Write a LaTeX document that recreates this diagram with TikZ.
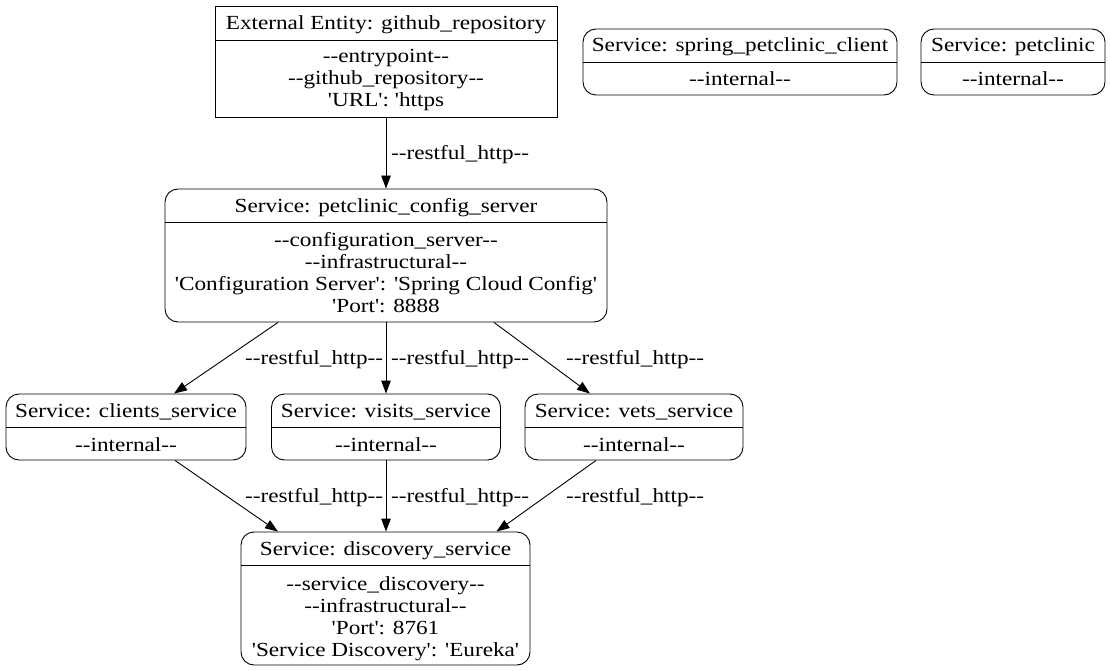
\documentclass[tikz,border=0pt]{standalone}
\usepackage{fontspec}
\newfontfamily\gv{Liberation Serif}[FakeStretch=1.16,Ligatures={TeXOff,CommonOff}]
\usetikzlibrary{arrows.meta}
\begin{document}
\begin{tikzpicture}[x=1pt,y=-1pt,
  every node/.style={font=\gv\fontsize{20}{22}\selectfont, inner sep=0pt},
  ebox/.style={draw, line width=0.9pt, rectangle},
  sbox/.style={draw, line width=0.9pt, rectangle, rounded corners=13pt},
  txt/.style={anchor=base},
  lbl/.style={anchor=base west},
  edge/.style={line width=0.9pt, -{Triangle[length=13pt,width=9.5pt]}},
  divider/.style={line width=0.9pt}]
\useasboundingbox (0,0) rectangle (1110,671);

% github_repository
\node[ebox, minimum width=342pt, minimum height=111pt] (gh) at (386,61.5) {};
\draw[divider] (gh.west |- 0,40) -- (gh.east |- 0,40);
\node[txt] (gh-t) at (386,30) {External Entity: github\_repository};
\node[txt] (gh-1) at (386,63) {--entrypoint--};
\node[txt] (gh-2) at (386,85) {--github\_repository--};
\node[txt] (gh-3) at (386,107) {'URL': 'https};

% spring_petclinic_client
\node[sbox, minimum width=314pt, minimum height=66pt] (spc) at (740,62) {};
\draw[divider] (spc.west |- 0,62) -- (spc.east |- 0,62);
\node[txt] (spc-t) at (740,52) {Service: spring\_petclinic\_client};
\node[txt] (spc-1) at (740,86) {--internal--};

% petclinic
\node[sbox, minimum width=184pt, minimum height=66pt] (pc) at (1013,62) {};
\draw[divider] (pc.west |- 0,62) -- (pc.east |- 0,62);
\node[txt] (pc-t) at (1013,52) {Service: petclinic};
\node[txt] (pc-1) at (1013,86) {--internal--};

% petclinic_config_server
\node[sbox, minimum width=442pt, minimum height=133pt] (cfg) at (386,255.5) {};
\draw[divider] (cfg.west |- 0,222) -- (cfg.east |- 0,222);
\node[txt] (cfg-t) at (386,212) {Service: petclinic\_config\_server};
\node[txt] (cfg-1) at (386,246) {--configuration\_server--};
\node[txt] (cfg-2) at (386,268) {--infrastructural--};
\node[txt] (cfg-3) at (386,290) {'Configuration Server': 'Spring Cloud Config'};
\node[txt] (cfg-4) at (386,312) {'Port': 8888};

% clients_service
\node[sbox, minimum width=240pt, minimum height=66pt] (cli) at (126,427) {};
\draw[divider] (cli.west |- 0,427) -- (cli.east |- 0,427);
\node[txt] (cli-t) at (126,417) {Service: clients\_service};
\node[txt] (cli-1) at (126,451) {--internal--};

% visits_service
\node[sbox, minimum width=229pt, minimum height=66pt] (vis) at (386,427) {};
\draw[divider] (vis.west |- 0,427) -- (vis.east |- 0,427);
\node[txt] (vis-t) at (386,417) {Service: visits\_service};
\node[txt] (vis-1) at (386,451) {--internal--};

% vets_service
\node[sbox, minimum width=218pt, minimum height=66pt] (vet) at (634,427) {};
\draw[divider] (vet.west |- 0,427) -- (vet.east |- 0,427);
\node[txt] (vet-t) at (634,417) {Service: vets\_service};
\node[txt] (vet-1) at (634,451) {--internal--};

% discovery_service
\node[sbox, minimum width=289pt, minimum height=133pt] (dis) at (385.5,598.5) {};
\draw[divider] (dis.west |- 0,565) -- (dis.east |- 0,565);
\node[txt] (dis-t) at (385.5,555) {Service: discovery\_service};
\node[txt] (dis-1) at (385.5,590) {--service\_discovery--};
\node[txt] (dis-2) at (385.5,612) {--infrastructural--};
\node[txt] (dis-3) at (385.5,634) {'Port': 8761};
\node[txt] (dis-4) at (385.5,656) {'Service Discovery': 'Eureka'};

% connectors
\draw[edge] (gh.south) -- (cfg.north);
\draw[edge] ([xshift=-108pt]cfg.south) -- ([xshift=48pt]cli.north);
\draw[edge] (cfg.south) -- (vis.north);
\draw[edge] ([xshift=108pt]cfg.south) -- ([xshift=-44pt]vet.north);
\draw[edge] ([xshift=49pt]cli.south) -- ([xshift=-107.5pt]dis.north);
\draw[edge] (vis.south) -- ([xshift=0.5pt]dis.north);
\draw[edge] ([xshift=-38pt]vet.south) -- ([xshift=111pt]dis.north);

% connector labels
\node[lbl] (l1) at (391,160) {--restful\_http--};
\node[lbl] (l2) at (245,364) {--restful\_http--};
\node[lbl] (l3) at (391,364) {--restful\_http--};
\node[lbl] (l4) at (566,364) {--restful\_http--};
\node[lbl] (l5) at (245,502) {--restful\_http--};
\node[lbl] (l6) at (391,502) {--restful\_http--};
\node[lbl] (l7) at (566,502) {--restful\_http--};
\end{tikzpicture}
\end{document}
